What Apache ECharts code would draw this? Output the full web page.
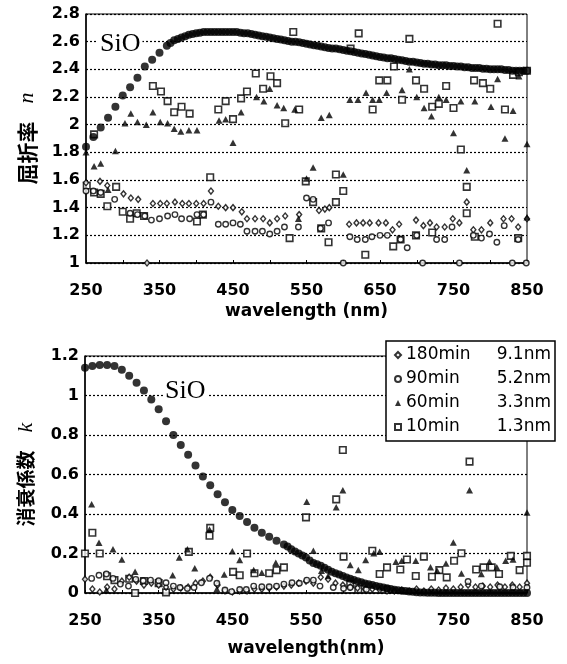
<!DOCTYPE html>
<html>
<head>
<meta charset="utf-8">
<script src="https://cdn.jsdelivr.net/npm/echarts@6/dist/echarts.min.js"></script>
<style>
  html, body { margin: 0; padding: 0; background: #fff; }
  #chart { width: 567px; height: 664px; }
</style>
</head>
<body>
<div id="chart"></div>
<script>
// legend entries: deposition time and film thickness
var legendNames = ['180min', '90min', '60min', '10min'];
var filmThick = ['9.1nm', '5.2nm', '3.3nm', '1.3nm'];

// ---- refractive index n (upper panel) ----
var sioNX = [250,260,270,280,290,300,310,320,330,340,350,360,
  365,370,375,380,385,390,395,400,405,410,415,420,425,430,435,440,445,450,455,460,465,470,475,480,
  485,490,495,500,505,510,515,520,525,530,535,540,545,550,555,560,565,570,575,580,585,590,595,600,
  605,610,615,620,625,630,635,640,645,650,655,660,665,670,675,680,685,690,695,700,705,710,715,720,
  725,730,735,740,745,750,755,760,765,770,775,780,785,790,795,800,805,810,815,820,825,830,835,840,845,850];
var sioNY = [1.84,1.91,1.98,2.05,2.13,2.21,2.27,2.34,2.42,2.47,2.52,2.57,
  2.59,2.61,2.62,2.63,2.64,2.65,2.655,2.66,2.665,2.67,2.67,2.67,2.67,2.67,2.67,2.67,2.67,2.67,2.67,2.665,2.66,2.66,2.655,2.65,
  2.645,2.64,2.635,2.63,2.625,2.62,2.615,2.61,2.605,2.60,2.60,2.595,2.59,2.585,2.58,2.575,2.57,2.565,2.56,2.555,2.55,2.55,2.545,2.54,
  2.535,2.53,2.525,2.52,2.515,2.51,2.505,2.50,2.495,2.49,2.485,2.48,2.48,2.475,2.47,2.465,2.46,2.455,2.455,2.45,2.445,2.44,2.44,2.435,
  2.435,2.43,2.43,2.43,2.425,2.425,2.42,2.42,2.415,2.415,2.41,2.41,2.41,2.405,2.405,2.40,2.40,2.40,2.40,2.395,2.395,2.39,2.39,2.39,2.39,2.39];

var n180X = [250,269,279,301,311,321,333,341,351,360,371,381,390,400,410,420,430,440,450,462,469,480,491,500,510,521,540,
  567,575,581,608,618,627,636,648,658,667,676,699,709,718,727,738,749,758,768,777,788,800,818,829,838,850];
var n180Y = [1.58,1.59,1.56,1.50,1.47,1.46,1.00,1.43,1.43,1.43,1.44,1.43,1.43,1.43,1.43,1.52,1.41,1.40,1.40,1.37,1.32,1.32,1.32,1.29,1.32,1.34,1.35,
  1.38,1.39,1.40,1.28,1.29,1.29,1.29,1.29,1.29,1.24,1.28,1.31,1.27,1.29,1.26,1.26,1.32,1.29,1.44,1.24,1.24,1.29,1.32,1.32,1.26,1.32];

var n90X = [250,260,270,289,310,320,330,339,350,361,371,380,391,401,410,420,430,440,450,460,469,480,490,500,510,520,539,
  550,559,569,580,600,609,619,630,639,650,660,678,687,700,708,727,738,748,758,777,788,799,809,819,830,838,849];
var n90Y = [1.52,1.52,1.51,1.46,1.36,1.35,1.34,1.31,1.32,1.34,1.35,1.32,1.32,1.35,1.35,1.44,1.28,1.28,1.29,1.28,1.23,1.23,1.23,1.21,1.23,1.26,1.26,
  1.47,1.46,1.25,1.29,1.00,1.19,1.17,1.17,1.19,1.20,1.20,1.17,1.11,1.20,1.00,1.17,1.17,1.26,1.00,1.20,1.18,1.21,1.15,1.27,1.00,1.17,1.00];

var n60X = [250,261,270,280,290,303,311,320,332,341,351,361,370,379,390,401,431,440,450,461,482,492,500,510,519,534,539,550,559,
  570,581,600,609,620,631,640,649,659,680,690,700,710,720,730,740,750,760,768,779,801,810,820,831,839,850,850];
var n60Y = [1.80,1.70,1.72,1.53,1.81,2.01,2.08,2.02,2.00,2.09,2.02,2.01,1.97,1.95,1.96,1.96,2.03,2.04,1.87,2.09,2.20,2.17,2.26,2.14,2.12,2.11,1.32,1.61,1.69,
  2.05,2.07,1.64,2.18,2.18,2.23,2.18,2.18,2.23,2.25,2.40,2.20,2.12,2.06,2.20,2.18,1.94,2.17,1.67,2.17,2.13,2.33,1.90,2.10,2.35,1.86,1.33];

var n10X = [251,261,261,270,279,291,300,310,319,329,341,352,361,370,380,391,401,409,419,430,440,450,461,469,481,491,501,510,521,527,532,
  540,549,559,570,580,590,590,600,610,621,630,640,649,660,668,669,678,680,690,699,699,710,721,721,730,740,750,760,768,768,778,779,
  790,800,810,820,831,838,839,850];
var n10Y = [1.56,1.93,1.51,1.50,1.41,1.55,1.37,1.32,1.36,1.34,2.28,2.24,2.17,2.09,2.13,2.08,1.30,1.35,1.62,2.11,2.17,2.04,2.19,2.24,2.37,2.26,2.35,2.30,2.01,1.18,2.67,
  2.11,1.59,1.44,1.25,1.15,1.64,1.44,1.52,2.55,2.66,1.06,2.11,2.32,2.32,1.12,2.42,1.17,2.18,2.62,2.32,1.20,2.26,2.13,1.22,2.15,2.28,2.12,1.82,1.55,1.36,2.32,1.19,
  2.30,2.26,2.73,2.11,2.36,1.18,2.38,2.39];

// ---- extinction coefficient k (lower panel) ----
var sioKX = [250,260,270,280,290,300,310,320,330,340,350,360,370,380,390,400,410,420,430,440,450,460,470,480,490,500,510,520,
  525,530,535,540,545,550,555,560,565,570,575,580,585,590,595,600,605,610,615,620,625,630,635,640,645,650,655,660,665,670,675,680,
  685,690,695,700,705,710,715,720,725,730,735,740,745,750,755,760,765,770,775,780,785,790,795,800,805,810,815,820,825,830,835,840,845,850];
var sioKY = [1.14,1.15,1.155,1.155,1.15,1.13,1.10,1.065,1.025,0.98,0.93,0.87,0.80,0.75,0.70,0.645,0.59,0.545,0.50,0.46,0.42,0.39,0.36,0.33,0.305,0.285,0.265,0.245,
  0.235,0.222,0.21,0.20,0.19,0.18,0.165,0.152,0.145,0.138,0.128,0.118,0.108,0.10,0.094,0.086,0.078,0.072,0.066,0.06,0.054,0.048,0.044,0.04,0.036,0.032,0.028,0.024,0.02,0.017,0.014,0.012,
  0.01,0.008,0.006,0.004,0.003,0.002,0.001,0.001,0.001,0,0,0,0,0,0,0,0,0,0,0,0,0,0,0,0,0,0,0,0,0,0,0,0,0];

var k180X = [250,260,270,280,290,300,310,320,330,340,350,360,370,380,390,400,410,420,430,440,450,460,470,480,490,500,510,520,530,540,
  550,560,570,580,590,600,610,620,630,640,650,660,670,680,690,700,710,720,730,740,750,760,770,780,790,800,810,820,830,840,850];
var k180Y = [0.07,0.02,0.005,0.03,0.02,0.06,0.08,0.06,0.04,0.05,0.04,0.03,0.02,0.025,0.03,0.05,0.06,0.08,0.04,0.01,0.005,0.01,0.01,0.02,0.02,0.025,0.03,0.035,0.04,0.05,
  0.06,0.05,0.08,0.07,0.05,0.04,0.03,0.025,0.02,0.02,0.015,0.01,0.01,0.015,0.01,0.02,0.01,0.02,0.015,0.025,0.02,0.03,0.04,0.03,0.035,0.03,0.04,0.03,0.04,0.03,0.05];

var k90X = [249,259,269,279,288,298,309,319,329,339,350,360,370,379,389,398,408,419,429,440,449,460,469,479,490,500,510,520,531,541,
  551,560,569,587,601,610,632,660,770,788,813,831,850];
var k90Y = [0.065,0.074,0.09,0.096,0.074,0.045,0.035,0.069,0.062,0.065,0.062,0.052,0.035,0.028,0.023,0.028,0.052,0.074,0.049,0.015,0.007,0.018,0.018,0.035,0.032,0.032,0.035,0.045,0.052,0.049,
  0.065,0.065,0.035,0.028,0.023,0.028,0.018,0.023,0.058,0.035,0.032,0.028,0.028];

var k60X = [249,259,269,279,288,300,318,369,378,389,399,419,429,439,450,460,479,490,509,551,560,571,580,591,600,610,621,631,642,650,
  672,680,699,719,728,740,750,761,772,788,799,809,821,831,850];
var k60Y = [0.38,0.45,0.254,0.015,0.222,0.17,0.108,0.09,0.18,0.222,0.125,0.322,0.02,0.094,0.212,0.167,0.116,0.103,0.153,0.462,0.214,0.113,0.086,0.434,0.52,0.142,0.116,0.167,0.201,0.209,
  0.158,0.163,0.163,0.13,0.113,0.15,0.256,0.099,0.52,0.096,0.158,0.13,0.163,0.17,0.408];

var k10X = [250,260,270,280,290,310,318,330,350,360,391,419,420,451,460,470,480,500,510,520,550,591,600,601,610,621,640,650,660,678,
  687,699,710,721,731,741,751,761,772,781,791,802,812,828,840,850,850];
var k10Y = [0.20,0.305,0.20,0.085,0.065,0.072,0.0,0.061,0.05,0.003,0.208,0.29,0.33,0.107,0.09,0.20,0.10,0.10,0.116,0.13,0.383,0.474,0.724,0.184,0.045,0.019,0.214,0.096,0.13,0.119,
  0.17,0.086,0.184,0.082,0.116,0.079,0.163,0.201,0.665,0.119,0.13,0.13,0.096,0.188,0.116,0.153,0.188];

function zip(xs, ys) {
  return xs.map(function (x, i) { return [x, ys[i]]; });
}

var openMark = { color: '#fff', borderColor: '#000', borderWidth: 1.4 };
var squareMark = { color: '#fff', borderColor: '#000', borderWidth: 1.6 };
var fillMark = { color: '#000' };

function makeSeries(idx, data, name, symbol, size, style, z) {
  return {
    type: 'scatter', name: name, xAxisIndex: idx, yAxisIndex: idx,
    data: data, symbol: symbol, symbolSize: size,
    itemStyle: style, z: z, silent: true, animation: false
  };
}

var tickFont = { fontFamily: 'DejaVu Sans', fontWeight: 'bold', fontSize: 16, color: '#000' };

function xAxisFor(idx, name, gap) {
  return {
    type: 'value', gridIndex: idx, min: 250, max: 850, interval: 50,
    name: name, nameLocation: 'middle', nameGap: gap,
    nameTextStyle: { fontFamily: 'DejaVu Sans', fontWeight: 'bold', fontSize: 17, color: '#000' },
    axisLine: { lineStyle: { color: '#000', width: 1.5 } },
    axisTick: { inside: true, length: 3, lineStyle: { color: '#000' } },
    axisLabel: Object.assign({ margin: 20, formatter: function (v) {
      return (v - 250) % 100 === 0 ? String(v) : '';
    } }, tickFont),
    splitLine: { show: false }
  };
}

function yAxisFor(idx, min, max, name, gap, cjkSize) {
  return {
    type: 'value', gridIndex: idx, min: min, max: max, interval: 0.2,
    name: name, nameLocation: 'middle', nameGap: gap, nameRotate: 90,
    nameTextStyle: { rich: {
      c: { fontFamily: 'Noto Sans CJK JP', fontWeight: 'bold', fontSize: cjkSize, color: '#000' },
      i: { fontFamily: 'Liberation Serif', fontStyle: 'italic', fontSize: 22, color: '#000', padding: [0, 0, 0, 18] }
    } },
    axisLine: { lineStyle: { color: '#000', width: 1.5 } },
    axisTick: { show: false },
    axisLabel: Object.assign({ margin: 6, formatter: function (v) {
      return String(Math.round(v * 10) / 10);
    } }, tickFont),
    splitLine: { lineStyle: { color: '#000', type: [2, 2], width: 1.2 } }
  };
}

var chart = echarts.init(document.getElementById('chart'), null, { renderer: 'canvas' });

var option = {
  backgroundColor: '#fff',
  animation: false,
  grid: [
    { left: 86, top: 14, width: 441, height: 249, show: true, borderColor: '#000', borderWidth: 1 },
    { left: 85, top: 356, width: 442, height: 237, show: true, borderColor: '#000', borderWidth: 1 }
  ],
  xAxis: [xAxisFor(0, 'wavelength (nm)', 40), xAxisFor(1, 'wavelength(nm)', 47)],
  yAxis: [
    yAxisFor(0, 1, 2.8, '{c|屈折率}{i|n}', 48, 21),
    yAxisFor(1, 0, 1.2, '{c|消衰係数}{i|k}', 48, 19)
  ],
  legend: {
    data: legendNames,
    orient: 'vertical', left: 386, top: 341,
    backgroundColor: '#fff', borderColor: '#000', borderWidth: 1.5, borderRadius: 0,
    padding: [5, 4, 5, 8], itemGap: 6, itemWidth: 6, itemHeight: 6,
    formatter: function (name) {
      return '{a|' + name + '}{b|' + filmThick[legendNames.indexOf(name)] + '}';
    },
    textStyle: { fontFamily: 'DejaVu Sans', fontSize: 17, color: '#000', lineHeight: 18, rich: {
      a: { fontFamily: 'DejaVu Sans', fontSize: 17, width: 90 },
      b: { fontFamily: 'DejaVu Sans', fontSize: 17, width: 55, align: 'right' }
    } },
    selectedMode: false
  },
  graphic: [
    { type: 'text', left: 98, top: 31, z: 50,
      style: { text: 'SiO', font: '26px "Liberation Serif"', fill: '#000', backgroundColor: '#fff', padding: [0, 2] } },
    { type: 'text', left: 163, top: 378, z: 50,
      style: { text: 'SiO', font: '26px "Liberation Serif"', fill: '#000', backgroundColor: '#fff', padding: [0, 2] } }
  ],
  series: [
    makeSeries(0, zip(n10X, n10Y), '10min', 'rect', 6.5, squareMark, 3),
    makeSeries(0, zip(n180X, n180Y), '180min', 'diamond', [5, 6], openMark, 3),
    makeSeries(0, zip(n90X, n90Y), '90min', 'circle', 5.5, openMark, 3),
    makeSeries(0, zip(n60X, n60Y), '60min', 'triangle', [7, 6.5], fillMark, 4),
    makeSeries(0, zip(sioNX, sioNY), 'SiO', 'circle', 8, fillMark, 5),
    makeSeries(1, zip(k10X, k10Y), '10min', 'rect', 6.5, squareMark, 3),
    makeSeries(1, zip(k180X, k180Y), '180min', 'diamond', [5, 6], openMark, 3),
    makeSeries(1, zip(k90X, k90Y), '90min', 'circle', 5.5, openMark, 3),
    makeSeries(1, zip(k60X, k60Y), '60min', 'triangle', [7, 6.5], fillMark, 4),
    makeSeries(1, zip(sioKX, sioKY), 'SiO', 'circle', 8, fillMark, 5)
  ]
};

chart.setOption(option);
</script>
</body>
</html>
